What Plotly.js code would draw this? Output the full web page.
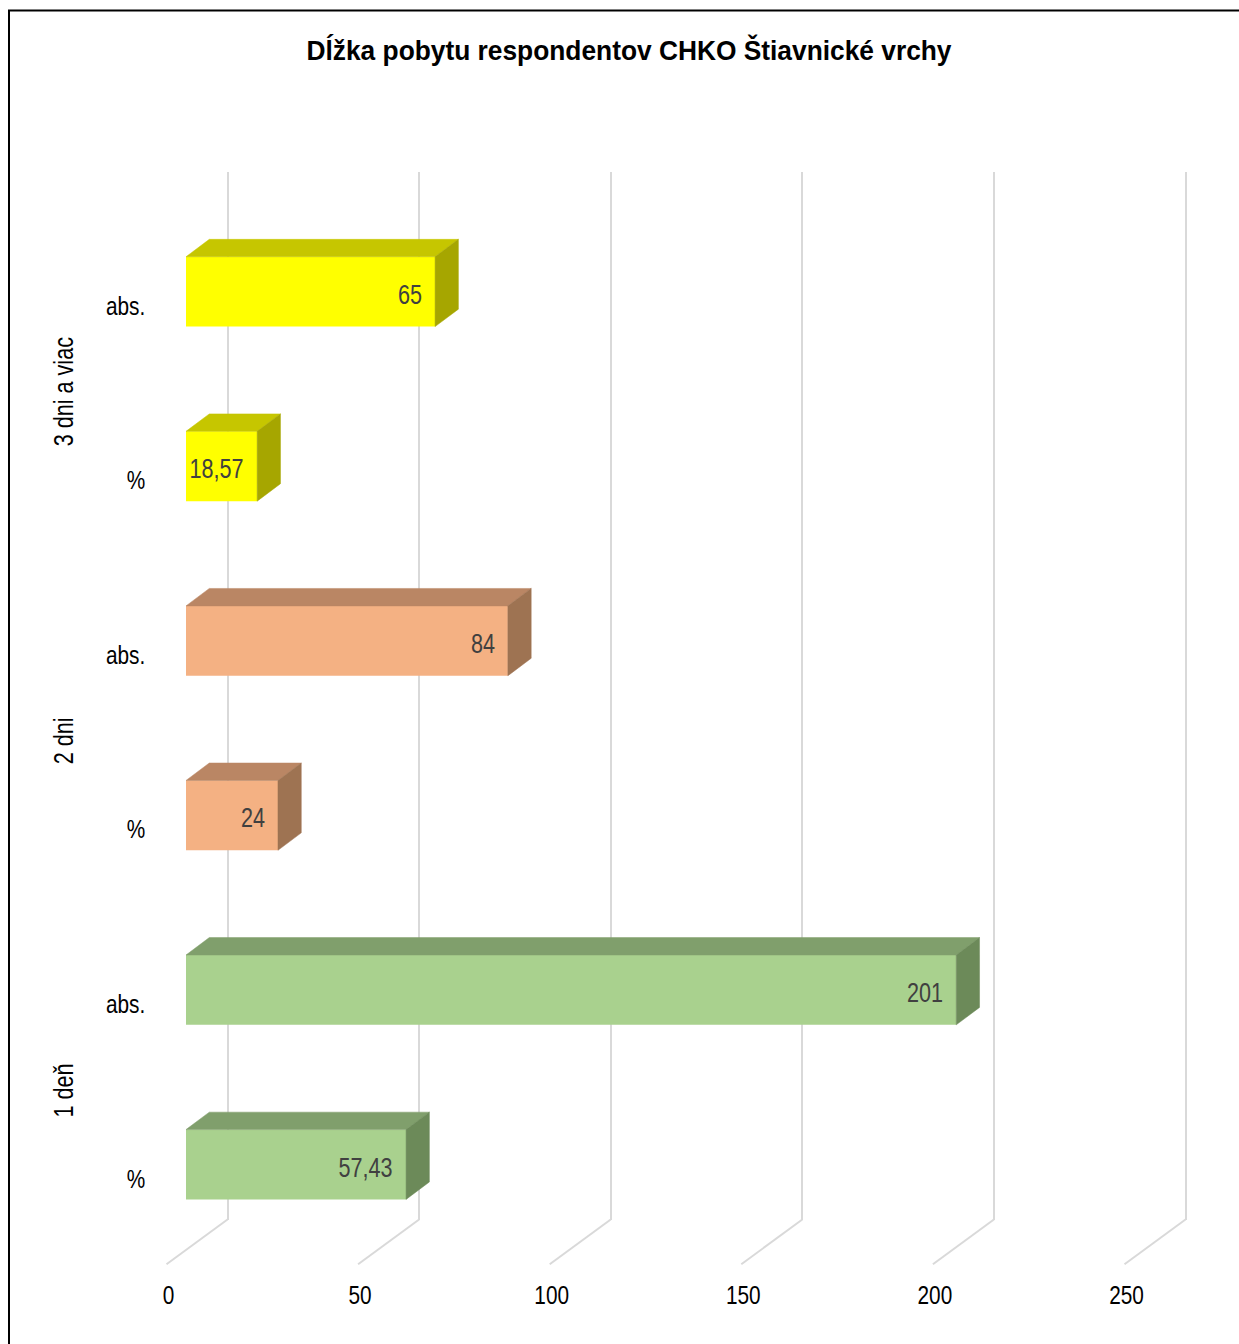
<!DOCTYPE html>
<html>
<head>
<meta charset="utf-8">
<script src="https://cdn.plot.ly/plotly-3.0.1.min.js"></script>
<style>
  html, body { margin: 0; padding: 0; background: #ffffff; }
  #chart { width: 1239px; height: 1344px; }
</style>
</head>
<body>
<div id="chart"></div>
<script>
// Length of stay of respondents, PLA Štiavnické vrchy
const groups = ['1 deň', '2 dni', '3 dni a viac'];
const measures = ['%', 'abs.'];
const pctValues = [57.43, 24, 18.57];
const absValues = [201, 84, 65];
const xTickVals = [0, 50, 100, 150, 200, 250];
const xTickText = ['0', '50', '100', '150', '200', '250'];

// front / top / side face colours per group
const frontColors = ['#A9D18E', '#F4B183', '#FFFF00'];
const topColors = ['#809F6C', '#BA8664', '#C6C600'];
const sideColors = ['#6C8A59', '#9E7352', '#A6A600'];

const W = 1239, H = 1344;
const FONT = 'Liberation Sans, Arial, sans-serif';
const pxPerUnit = 3.832;
const xMax = 255;
const gridMin = -16.5;            // room left of zero for the floor lines
const barHalf = 0.2;              // half bar thickness in category units
const depthX = 23.3 / pxPerUnit;  // oblique depth along value axis
const depthY = 0.1;               // oblique depth along category axis

// rows bottom to top: for each group "%" then "abs."
const rows = [];
groups.forEach((g, gi) => {
  rows.push({ group: gi, measure: 0, value: pctValues[gi] });
  rows.push({ group: gi, measure: 1, value: absValues[gi] });
});
const rowPos = rows.map((r, i) => i);

const fmt = v => String(v).replace('.', ',');

const traces = [];
// front faces
traces.push({
  type: 'bar',
  orientation: 'h',
  x: rows.map(r => r.value),
  y: rowPos,
  width: 2 * barHalf,
  xaxis: 'x2',
  yaxis: 'y',
  marker: { color: rows.map(r => frontColors[r.group]), line: { width: 0 } },
  hoverinfo: 'skip',
  showlegend: false
});
// top and side faces
rows.forEach((r, i) => {
  const v = r.value, yt = i + barHalf, yb = i - barHalf;
  traces.push({
    type: 'scatter', mode: 'lines', xaxis: 'x2', yaxis: 'y',
    x: [0, v, v + depthX, depthX, 0],
    y: [yt, yt, yt + depthY, yt + depthY, yt],
    fill: 'toself', fillcolor: topColors[r.group],
    line: { width: 0.5, color: topColors[r.group] },
    hoverinfo: 'skip', showlegend: false
  });
  traces.push({
    type: 'scatter', mode: 'lines', xaxis: 'x2', yaxis: 'y',
    x: [v, v + depthX, v + depthX, v, v],
    y: [yt, yt + depthY, yb + depthY, yb, yt],
    fill: 'toself', fillcolor: sideColors[r.group],
    line: { width: 0.5, color: sideColors[r.group] },
    hoverinfo: 'skip', showlegend: false
  });
});

const px2fx = p => p / W;
const py2fy = p => 1 - p / H;

const yBottomPx = 1219.5, yTopPx = 172;
const y0Px = 1164.5, rowPx = 174.56;
const yRange = [(y0Px - yBottomPx) / rowPx, (y0Px - yTopPx) / rowPx];
const gridZeroPx = 227.5, barZeroPx = 186;

const annotations = [];
// value labels inside the bars, near the bar end
rows.forEach((r, i) => {
  annotations.push({
    xref: 'x2', yref: 'y', x: r.value, y: i,
    text: fmt(r.value), showarrow: false,
    xanchor: 'right', yanchor: 'middle', xshift: -11, yshift: -3,
    font: { family: FONT, size: 27, color: '#404040' }
  });
});
const valueLabelCount = annotations.length;
// group labels
groups.forEach((g, gi) => {
  annotations.push({
    xref: 'paper', yref: 'y', x: px2fx(64), y: 2 * gi + 0.5,
    text: g, textangle: -90, showarrow: false,
    xanchor: 'center', yanchor: 'middle', yshift: -13,
    font: { family: FONT, size: 27, color: '#000000' }
  });
});

const shapes = [];
// floor lines running from the back wall to the front edge
xTickVals.forEach(t => {
  shapes.push({
    type: 'line', xref: 'x', xsizemode: 'pixel', xanchor: t,
    x0: 0, x1: -61, yref: 'paper', y0: py2fy(yBottomPx), y1: py2fy(1264.3),
    line: { color: '#D9D9D9', width: 2 }, layer: 'below'
  });
});
// chart frame
shapes.push({
  type: 'rect', xref: 'paper', yref: 'paper',
  x0: px2fx(9), x1: 1.01, y0: -0.01, y1: py2fy(10.5),
  line: { color: '#000000', width: 2 }, fillcolor: 'rgba(0,0,0,0)'
});

const layout = {
  width: W, height: H,
  margin: { l: 0, r: 0, t: 0, b: 0, pad: 0 },
  paper_bgcolor: '#ffffff', plot_bgcolor: 'rgba(0,0,0,0)',
  font: { family: FONT, size: 26, color: '#000000' },
  title: {
    text: '<b>Dĺžka pobytu respondentov CHKO Štiavnické vrchy</b>',
    x: px2fx(629), xanchor: 'center', xref: 'paper',
    y: py2fy(50), yanchor: 'middle', yref: 'container',
    font: { family: FONT, size: 28, color: '#000000' }
  },
  // back wall: gridlines and value tick labels (labels sit on the front floor edge)
  xaxis: {
    domain: [px2fx(gridZeroPx + gridMin * pxPerUnit), px2fx(gridZeroPx + xMax * pxPerUnit)],
    range: [gridMin, xMax], anchor: 'y',
    tickvals: xTickVals, ticktext: xTickText,
    showgrid: true, gridcolor: '#D9D9D9', gridwidth: 2,
    zeroline: false, showline: false, ticks: '',
    ticklabelshift: -59, ticklabelstandoff: 57,
    tickfont: { family: FONT, size: 26, color: '#000000' },
    fixedrange: true
  },
  // bar plane, slightly in front of the back wall
  xaxis2: {
    domain: [px2fx(barZeroPx), px2fx(barZeroPx + xMax * pxPerUnit)],
    range: [0, xMax], anchor: 'y',
    visible: false, showgrid: false, zeroline: false, fixedrange: true
  },
  yaxis: {
    domain: [py2fy(yBottomPx), py2fy(yTopPx)],
    range: yRange, anchor: 'x',
    tickvals: rowPos, ticktext: rows.map(r => measures[r.measure]),
    showgrid: false, zeroline: false, showline: false, ticks: '',
    ticklabelshift: 14, ticklabelstandoff: 18,
    tickfont: { family: FONT, size: 26, color: '#000000' },
    fixedrange: true
  },
  annotations: annotations,
  shapes: shapes,
  showlegend: false
};

// narrow the glyphs to a condensed face; value labels keep their right edge
function condenseText(gd) {
  gd.querySelectorAll('text').forEach(t => {
    const w = t.getComputedTextLength();
    if (!w) return;
    const f = t.classList.contains('gtitle') ? 0.94 : 0.8;
    t.setAttribute('textLength', (w * f).toFixed(2));
    t.setAttribute('lengthAdjust', 'spacingAndGlyphs');
    const ann = t.closest('.annotation');
    if (ann && Number(ann.getAttribute('data-index')) < valueLabelCount) {
      const x = parseFloat(t.getAttribute('x')) || 0;
      t.setAttribute('x', (x + w * (1 - f) / 2).toFixed(2));
    }
  });
}

Plotly.newPlot('chart', traces, layout, { displayModeBar: false, staticPlot: true })
  .then(gd => condenseText(gd));
</script>
</body>
</html>
